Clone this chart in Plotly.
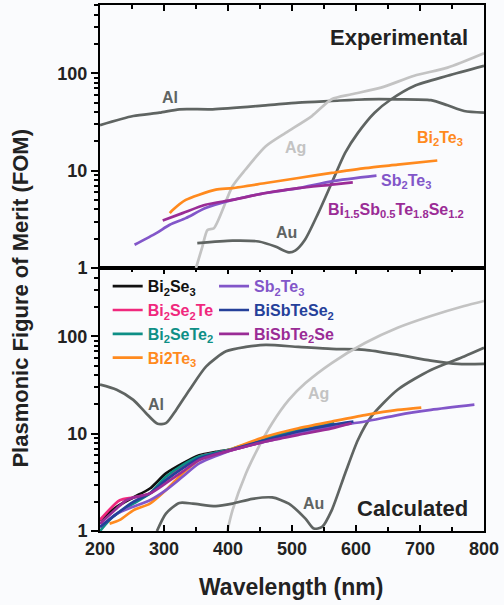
import plotly.graph_objects as go

# ---------------- Experimental (top panel) ----------------
exp_al_x = [200, 252, 293, 324, 376, 459, 510, 562, 614, 665, 717, 743, 769, 800]
exp_al_y = [29.3, 36.3, 39.3, 42.6, 42.6, 46.8, 49.9, 51.9, 53.9, 53.9, 52.8, 46.8, 40.9, 39.3]
exp_ag_x = [350, 360, 368, 378, 407, 427, 459, 490, 531, 562, 593, 639, 691, 743, 800]
exp_ag_y = [1.0, 1.66, 2.46, 2.56, 6.9, 10.2, 17.8, 24.4, 36.3, 54, 60.7, 71, 94, 114, 160]
exp_au_x = [352, 407, 448, 474, 495, 505, 520, 541, 562, 583, 603, 629, 655, 691, 743, 800]
exp_au_y = [1.80, 1.91, 1.87, 1.66, 1.45, 1.51, 1.94, 3.66, 7.46, 15.2, 24.4, 39.3, 54, 74, 94, 119]
exp_bt_x = [309, 314, 334, 355, 381, 407, 459, 510, 562, 614, 665, 727]
exp_bt_y = [3.66, 3.96, 5.0, 5.66, 6.37, 6.62, 7.46, 8.4, 9.46, 10.6, 11.5, 12.7]
exp_st_x = [254, 288, 309, 334, 365, 407, 459, 510, 562, 632]
exp_st_y = [1.73, 2.28, 2.78, 3.25, 4.12, 5.0, 5.89, 6.6, 7.76, 8.87]
exp_bsts_x = [298, 329, 365, 407, 459, 510, 562, 595]
exp_bsts_y = [3.08, 3.66, 4.46, 5.0, 5.89, 6.6, 7.17, 7.58]

# ---------------- Calculated (bottom panel) ----------------
calc_al_x = [200, 226, 252, 272, 290, 303, 319, 340, 366, 397, 428, 459, 510, 562, 614, 665, 717, 759, 800]
calc_al_y = [31.8, 28.2, 22.2, 16.2, 12.6, 12.8, 17.5, 28.2, 49, 70, 77.6, 81.3, 77.6, 74, 72.5, 64.6, 56.2, 51.9, 51.9]
calc_ag_x = [399, 407, 428, 448, 469, 495, 521, 562, 614, 665, 717, 769, 800]
calc_ag_y = [1.0, 1.63, 3.9, 7.3, 12.8, 22.2, 33, 53, 85, 122, 161, 204, 230]
calc_au_x = [289, 303, 324, 345, 381, 407, 438, 469, 495, 521, 534, 547, 562, 583, 603, 624, 665, 717, 769, 800]
calc_au_y = [1.0, 1.51, 1.94, 1.91, 1.80, 1.91, 2.14, 2.21, 1.91, 1.34, 1.06, 1.1, 1.63, 3.9, 8.6, 15, 28.2, 45, 62, 76]

bi2se3_x = [200, 226, 252, 278, 303, 329, 355, 381, 407, 433, 459, 480]
bi2se3_y = [1.29, 1.77, 2.21, 2.73, 3.9, 4.94, 6.0, 6.5, 6.9, 7.6, 8.6, 9.7]
bi2se2te_x = [200, 231, 252, 278, 303, 329, 355, 407, 459, 510, 560]
bi2se2te_y = [1.3, 2.07, 2.21, 2.43, 3.33, 4.57, 5.8, 6.8, 8.4, 10.5, 12.5]
bi2sete2_x = [200, 220, 252, 278, 303, 329, 355, 407, 459, 510, 566]
bi2sete2_y = [1.0, 1.4, 1.91, 2.43, 3.6, 4.75, 5.8, 7.0, 8.9, 10.9, 12.8]
bi2te3_x = [215, 231, 252, 278, 303, 329, 355, 407, 459, 510, 562, 614, 665, 702]
bi2te3_y = [1.19, 1.3, 1.63, 1.91, 2.63, 3.9, 5.36, 7.0, 9.3, 11.35, 13.3, 15.5, 17.5, 18.5]
sb2te3_x = [200, 226, 252, 278, 303, 329, 355, 407, 459, 510, 562, 614, 665, 717, 785]
sb2te3_y = [1.1, 1.5, 1.77, 2.07, 2.63, 3.6, 4.94, 6.8, 8.3, 10, 11.8, 13.3, 15.5, 17.5, 19.8]
bisbtese2_x = [200, 226, 252, 278, 303, 329, 355, 407, 459, 510, 562, 596]
bisbtese2_y = [1.1, 1.5, 1.99, 2.43, 3.33, 4.4, 5.57, 6.9, 8.6, 10.5, 12.3, 13.3]
bisbte2se_x = [200, 226, 241, 252, 278, 303, 329, 355, 407, 459, 510, 562, 593]
bisbte2se_y = [1.19, 1.7, 2.07, 2.2, 2.43, 3.1, 4.06, 5.36, 6.8, 8.3, 9.7, 11.3, 12.8]

x_ticks = [200, 300, 400, 500, 600, 700, 800]
y_ticks = [1, 10, 100]
y_minor = [2, 3, 4, 5, 6, 7, 8, 9, 20, 30, 40, 50, 60, 70, 80, 90, 200, 300, 400, 500]

DARK = "#5f6462"
LIGHT = "#c3c3c3"
C = {
    "bi2se3": "#111111", "bi2se2te": "#f0287d", "bi2sete2": "#0e8f86",
    "bi2te3": "#ff8a1e", "sb2te3": "#8256c9", "bisbtese2": "#25409a",
    "bisbte2se": "#9a2c96",
}
FONT = "Liberation Sans, Arial, sans-serif"
BG = "#fafbfd"

fig = go.Figure()

def line(x, y, color, ya="y2", width=2.7, name=None, legend=None, shape="spline"):
    fig.add_trace(go.Scatter(
        x=x, y=y, mode="lines", yaxis=ya, xaxis="x" if ya == "y" else "x2",
        line=dict(color=color, width=width, shape=shape, smoothing=0.7),
        name=name, showlegend=name is not None, legend=legend or "legend",
        hoverinfo="skip"))

# top panel
line(exp_al_x, exp_al_y, DARK)
line(exp_ag_x, exp_ag_y, LIGHT)
line(exp_au_x, exp_au_y, DARK)
line(exp_bt_x, exp_bt_y, C["bi2te3"])
line(exp_st_x, exp_st_y, C["sb2te3"])
line(exp_bsts_x, exp_bsts_y, C["bisbte2se"])

# bottom panel
line(calc_al_x, calc_al_y, DARK, ya="y")
line(calc_ag_x, calc_ag_y, LIGHT, ya="y")
line(calc_au_x, calc_au_y, DARK, ya="y")

def lab(txt, col):
    return f'<span style="color:{col}"><b>{txt}</b></span>'

line(bi2se3_x, bi2se3_y, C["bi2se3"], ya="y", name=lab("Bi<sub>2</sub>Se<sub>3</sub>", C["bi2se3"]), legend="legend")
line(bi2se2te_x, bi2se2te_y, C["bi2se2te"], ya="y", name=lab("Bi<sub>2</sub>Se<sub>2</sub>Te", C["bi2se2te"]), legend="legend")
line(bi2sete2_x, bi2sete2_y, C["bi2sete2"], ya="y", name=lab("Bi<sub>2</sub>SeTe<sub>2</sub>", C["bi2sete2"]), legend="legend")
line(bi2te3_x, bi2te3_y, C["bi2te3"], ya="y", name=lab("Bi2Te<sub>3</sub>", C["bi2te3"]), legend="legend")
line(sb2te3_x, sb2te3_y, C["sb2te3"], ya="y", name=lab("Sb<sub>2</sub>Te<sub>3</sub>", C["sb2te3"]), legend="legend2")
line(bisbtese2_x, bisbtese2_y, C["bisbtese2"], ya="y", name=lab("BiSbTeSe<sub>2</sub>", C["bisbtese2"]), legend="legend2")
line(bisbte2se_x, bisbte2se_y, C["bisbte2se"], ya="y", name=lab("BiSbTe<sub>2</sub>Se", C["bisbte2se"]), legend="legend2")

yax = dict(type="log", range=[0, 2.7], tickvals=y_ticks, ticktext=[f"<b>{v}</b>" for v in y_ticks],
           ticks="outside", ticklen=7, tickwidth=2, tickcolor="black",
           showline=True, linecolor="black", linewidth=2, mirror=True,
           showgrid=False, zeroline=False,
           tickfont=dict(family=FONT, size=18, color="#222"),
           minor=dict(tickmode="array", tickvals=y_minor, ticks="outside", ticklen=4,
                      tickwidth=1.5, tickcolor="black", showgrid=False))
xax = dict(range=[200, 800], tickvals=x_ticks, ticktext=[f"<b>{v}</b>" for v in x_ticks],
           ticks="inside", ticklen=6, tickwidth=2,
           tickcolor="black", showline=True, linecolor="black", linewidth=2,
           showgrid=False, zeroline=False,
           tickfont=dict(family=FONT, size=18, color="#222"),
           minor=dict(dtick=50, tick0=200, ticks="inside", ticklen=4, tickwidth=1.5,
                      tickcolor="black", showgrid=False))

legfont = dict(family=FONT, size=16, color="#222")
fig.update_layout(
    width=504, height=605, paper_bgcolor=BG, plot_bgcolor=BG,
    margin=dict(l=100, r=17, t=5, b=74),
    font=dict(family=FONT),
    xaxis=dict(**xax, anchor="y", mirror="allticks"),
    xaxis2=dict(**xax, anchor="y2", side="top", showticklabels=False, mirror=True, matches="x"),
    yaxis=dict(**yax, domain=[0, 0.5], anchor="x"),
    yaxis2=dict(**yax, domain=[0.5, 1], anchor="x2"),
    legend=dict(x=0.02, y=0.4975, xanchor="left", yanchor="top", bgcolor="rgba(0,0,0,0)",
                font=legfont, itemwidth=30, tracegroupgap=0),
    legend2=dict(x=0.297, y=0.4975, xanchor="left", yanchor="top", bgcolor="rgba(0,0,0,0)",
                 font=legfont, itemwidth=30, tracegroupgap=0),
)

def ann(txt, x, y, color, size=16, xanchor="center"):
    fig.add_annotation(text=f"<b>{txt}</b>", x=x, y=y, xref="paper", yref="paper",
                       xanchor=xanchor, yanchor="middle", showarrow=False,
                       font=dict(family=FONT, size=size, color=color))

ann("Experimental", 0.964, 0.939, "#222", size=22, xanchor="right")
ann("Al", 0.181, 0.825, DARK)
ann("Ag", 0.509, 0.730, LIGHT)
ann("Au", 0.486, 0.567, DARK)
ann("Bi<sub>2</sub>Te<sub>3</sub>", 0.886, 0.747, C["bi2te3"])
ann("Sb<sub>2</sub>Te<sub>3</sub>", 0.796, 0.664, C["sb2te3"])
ann("Bi<sub>1.5</sub>Sb<sub>0.5</sub>Te<sub>1.8</sub>Se<sub>1.2</sub>", 0.770, 0.610, C["bisbte2se"])
ann("Al", 0.147, 0.241, DARK)
ann("Ag", 0.568, 0.262, LIGHT)
ann("Au", 0.556, 0.053, DARK)
ann("Calculated", 0.964, 0.042, "#222", size=22, xanchor="right")

fig.add_annotation(text="<b>Plasmonic Figure of Merit (FOM)</b>",
                   x=(20 - 100) / 387, y=(531 - 298) / 526, xref="paper", yref="paper",
                   xanchor="center", yanchor="middle",
                   showarrow=False, textangle=-90, font=dict(family=FONT, size=22, color="#222"))
fig.add_annotation(text="<b>Wavelength (nm)</b>", x=(292 - 100) / 387, y=(531 - 587) / 526,
                   xref="paper", yref="paper",
                   showarrow=False, xanchor="center", yanchor="middle",
                   font=dict(family=FONT, size=23, color="#222"))

fig.write_html("out.html")
